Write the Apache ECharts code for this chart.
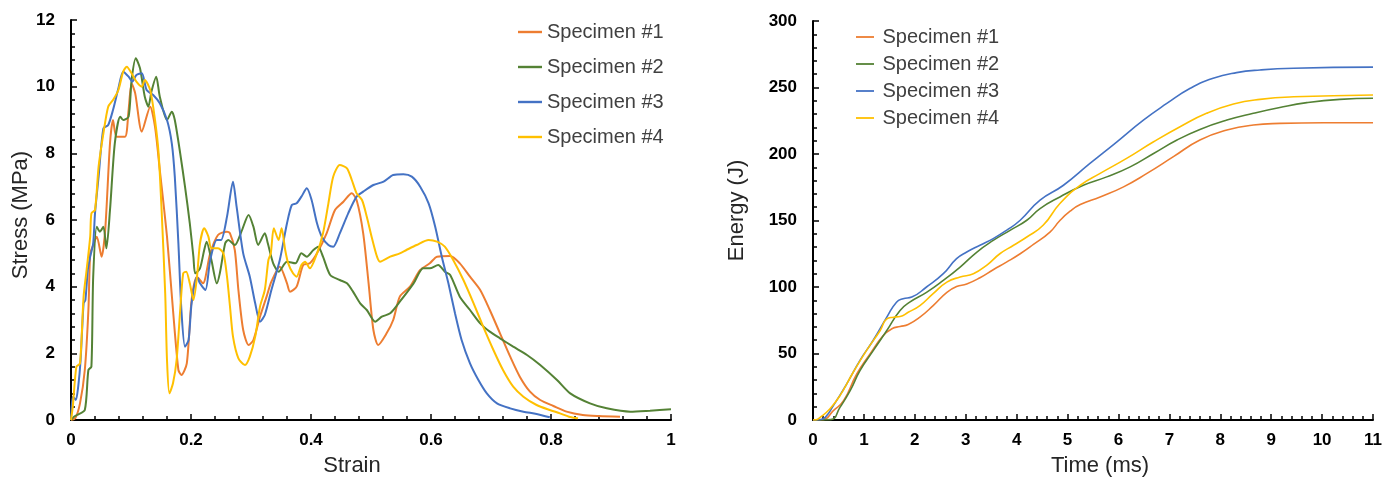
<!DOCTYPE html>
<html><head><meta charset="utf-8">
<script src="https://cdn.jsdelivr.net/npm/echarts@6/dist/echarts.min.js"></script>
<style>html,body{margin:0;padding:0;background:#fff}#c{width:1393px;height:482px}</style>
</head><body><div id="c"></div>
<script>
const seriesNames = ['Specimen #1', 'Specimen #2', 'Specimen #3', 'Specimen #4'];
const colors = ['#ED7D31', '#548235', '#4472C4', '#FFC000'];

// Stress–strain curves: [strain, stress (MPa)]
const stress1 = [[0,0],[0.007,0.05],[0.015,0.5],[0.023,1.5],[0.029,3.3],[0.032,5.0],[0.036,5.2],[0.043,5.5],[0.051,4.9],[0.057,5.7],[0.065,8.3],[0.07,9.0],[0.076,8.5],[0.09,8.5],[0.096,9.3],[0.101,10.1],[0.107,9.8],[0.118,8.65],[0.132,9.4],[0.14,8.8],[0.148,7.5],[0.16,5.5],[0.17,3.3],[0.179,1.5],[0.184,1.35],[0.193,1.7],[0.201,3.6],[0.21,4.3],[0.22,4.1],[0.232,5.0],[0.245,5.55],[0.26,5.65],[0.265,5.6],[0.273,5.1],[0.279,3.9],[0.287,2.7],[0.296,2.25],[0.304,2.4],[0.315,3.1],[0.326,3.7],[0.334,4.15],[0.348,4.6],[0.36,4.1],[0.365,3.85],[0.376,4.0],[0.387,4.65],[0.398,4.7],[0.41,5.0],[0.426,5.6],[0.44,6.3],[0.454,6.55],[0.468,6.8],[0.476,6.6],[0.487,5.6],[0.496,4.1],[0.504,2.7],[0.512,2.25],[0.526,2.6],[0.537,3.0],[0.548,3.7],[0.565,4.0],[0.582,4.5],[0.598,4.7],[0.61,4.9],[0.632,4.92],[0.648,4.7],[0.665,4.3],[0.682,3.9],[0.698,3.3],[0.715,2.6],[0.732,1.9],[0.748,1.3],[0.765,0.85],[0.782,0.6],[0.804,0.42],[0.826,0.25],[0.853,0.15],[0.88,0.12],[0.915,0.1]];
const stress2 = [[0,0],[0.005,0.1],[0.01,0.15],[0.023,0.3],[0.029,1.5],[0.034,1.6],[0.037,4.3],[0.043,5.8],[0.048,5.65],[0.054,5.8],[0.059,5.15],[0.065,6.3],[0.073,8.3],[0.082,9.1],[0.087,9.0],[0.096,9.1],[0.101,10.2],[0.108,10.85],[0.115,10.55],[0.123,9.7],[0.129,9.4],[0.134,9.85],[0.142,10.3],[0.148,9.7],[0.16,9.0],[0.168,9.25],[0.173,9.0],[0.182,8.0],[0.19,7.0],[0.198,5.9],[0.204,4.9],[0.207,4.4],[0.215,4.55],[0.222,5.1],[0.226,5.35],[0.234,4.8],[0.243,4.1],[0.248,4.4],[0.257,5.3],[0.262,5.4],[0.273,5.25],[0.284,5.65],[0.296,6.15],[0.304,5.8],[0.312,5.25],[0.323,5.6],[0.328,5.3],[0.337,4.7],[0.346,4.45],[0.36,4.75],[0.374,4.7],[0.384,5.0],[0.393,4.9],[0.404,5.1],[0.412,5.2],[0.42,4.9],[0.432,4.35],[0.448,4.2],[0.46,4.1],[0.47,3.85],[0.482,3.5],[0.493,3.3],[0.507,2.95],[0.518,3.1],[0.532,3.2],[0.548,3.55],[0.571,4.1],[0.587,4.55],[0.598,4.55],[0.612,4.65],[0.623,4.45],[0.632,4.35],[0.648,3.7],[0.665,3.3],[0.682,2.9],[0.698,2.65],[0.715,2.45],[0.737,2.2],[0.76,1.95],[0.782,1.65],[0.81,1.2],[0.832,0.8],[0.865,0.5],[0.893,0.35],[0.932,0.25],[0.965,0.28],[1.0,0.32]];
const stress3 = [[0,0],[0.003,0.7],[0.008,0.6],[0.012,1.0],[0.016,1.8],[0.021,3.5],[0.024,3.6],[0.028,4.5],[0.032,4.9],[0.037,5.3],[0.04,6.2],[0.046,7.3],[0.054,8.75],[0.062,8.85],[0.07,9.3],[0.079,9.95],[0.087,10.45],[0.096,10.3],[0.102,10.15],[0.109,10.35],[0.118,10.4],[0.126,9.9],[0.137,9.75],[0.148,9.5],[0.16,9.0],[0.168,8.3],[0.173,7.3],[0.179,5.3],[0.184,3.3],[0.19,2.2],[0.196,2.4],[0.201,3.5],[0.21,4.3],[0.215,4.1],[0.224,3.9],[0.232,4.8],[0.243,5.4],[0.25,5.4],[0.26,6.1],[0.27,7.15],[0.276,6.4],[0.287,5.0],[0.298,4.3],[0.307,3.5],[0.315,2.95],[0.323,3.15],[0.334,3.9],[0.348,4.8],[0.36,5.9],[0.368,6.45],[0.376,6.5],[0.384,6.7],[0.393,6.95],[0.401,6.6],[0.41,5.9],[0.418,5.5],[0.429,5.25],[0.437,5.2],[0.448,5.6],[0.462,6.2],[0.476,6.7],[0.487,6.85],[0.504,7.05],[0.521,7.15],[0.537,7.35],[0.554,7.37],[0.568,7.3],[0.582,7.0],[0.596,6.5],[0.607,5.8],[0.618,4.9],[0.629,4.1],[0.64,3.2],[0.651,2.4],[0.665,1.7],[0.679,1.2],[0.693,0.8],[0.71,0.5],[0.732,0.35],[0.754,0.25],[0.776,0.18],[0.798,0.08]];
const stress4 = [[0,0],[0.003,0.4],[0.009,1.6],[0.015,1.7],[0.021,3.7],[0.026,4.5],[0.032,5.5],[0.034,6.2],[0.04,6.3],[0.046,7.6],[0.054,8.6],[0.062,9.4],[0.07,9.6],[0.079,9.9],[0.087,10.45],[0.093,10.6],[0.101,10.4],[0.109,10.15],[0.118,10.0],[0.123,10.2],[0.132,9.9],[0.14,9.0],[0.146,8.0],[0.151,6.3],[0.157,3.8],[0.16,1.8],[0.164,0.8],[0.17,1.1],[0.176,1.8],[0.182,3.3],[0.187,4.4],[0.192,4.45],[0.198,4.1],[0.204,3.6],[0.21,4.3],[0.215,5.3],[0.222,5.75],[0.229,5.5],[0.234,5.15],[0.245,5.15],[0.254,5.0],[0.26,4.3],[0.265,3.4],[0.27,2.5],[0.279,1.85],[0.29,1.65],[0.298,1.9],[0.307,2.5],[0.315,3.4],[0.323,3.9],[0.329,4.8],[0.333,5.0],[0.338,5.75],[0.346,5.4],[0.351,5.75],[0.357,5.1],[0.362,4.7],[0.37,4.4],[0.376,4.3],[0.384,4.65],[0.39,4.75],[0.398,4.55],[0.41,5.0],[0.42,5.6],[0.429,6.5],[0.437,7.3],[0.448,7.65],[0.46,7.55],[0.468,7.2],[0.476,6.8],[0.485,6.6],[0.493,6.1],[0.501,5.5],[0.51,4.9],[0.515,4.75],[0.532,4.9],[0.548,5.0],[0.559,5.1],[0.576,5.25],[0.596,5.4],[0.61,5.35],[0.623,5.2],[0.637,4.8],[0.654,4.2],[0.671,3.5],[0.687,2.8],[0.704,2.1],[0.72,1.5],[0.737,1.0],[0.754,0.7],[0.776,0.45],[0.798,0.3],[0.815,0.2],[0.83,0.1],[0.845,0.05]];

// Energy–time curves: [time (ms), energy (J)]
const energy1 = [[0,0],[0.2,0.3],[0.4,7],[0.6,14.5],[0.86,34.6],[1.12,49.7],[1.38,63.5],[1.55,68.6],[1.71,70.3],[1.87,71.8],[2.1,77.3],[2.36,86],[2.63,96],[2.82,100.3],[3.02,102.3],[3.28,107],[3.54,113],[3.8,118.7],[4.07,125],[4.33,132],[4.66,141.5],[4.85,150],[5.05,157],[5.25,162],[5.64,167.7],[6.1,175.3],[6.56,185.4],[7.08,198],[7.6,210.5],[8.13,218],[8.65,221.8],[9.17,223],[10.03,223.5],[11,223.5]];
const energy2 = [[0,0],[0.35,0.3],[0.53,9.5],[0.73,22],[0.92,37],[1.18,52],[1.45,67.3],[1.71,82.4],[1.9,88.6],[2.23,96],[2.56,105],[2.89,115],[3.22,126.3],[3.54,135],[3.87,142.6],[4.2,150.2],[4.46,159],[4.85,167.7],[5.31,176.5],[5.77,182.8],[6.23,190.3],[6.69,200.4],[7.15,210.5],[7.6,218.5],[8.13,225.5],[8.65,230.6],[9.17,235],[9.7,238.6],[10.35,241.1],[11,241.9]];
const energy3 = [[0,0],[0.12,0.2],[0.24,2],[0.4,10.8],[0.66,27],[0.92,44.7],[1.18,59.8],[1.45,77.3],[1.64,88.6],[1.77,91.2],[1.94,92.4],[2.23,100],[2.56,110],[2.82,121.3],[3.02,126.3],[3.28,131.4],[3.54,136.4],[3.8,142.6],[4.07,150.2],[4.46,165.3],[4.92,176.5],[5.44,192.9],[5.97,209.2],[6.49,225.5],[6.95,238],[7.41,249.4],[7.86,257],[8.32,261.2],[8.78,263.2],[9.44,264.5],[11,265.3]];
const energy4 = [[0,0],[0.05,0.1],[0.14,2],[0.33,8.3],[0.53,18.3],[0.79,35.9],[1.05,52.2],[1.32,67.3],[1.45,76],[1.58,77.3],[1.71,77.8],[1.87,81],[2.1,86],[2.36,95],[2.63,103.7],[2.89,107.5],[3.15,110],[3.41,116.3],[3.67,125],[3.94,131.4],[4.2,137.6],[4.52,146.4],[4.85,162.8],[5.25,176.5],[5.64,185.4],[6.16,196.7],[6.69,209.2],[7.21,220.5],[7.73,230.6],[8.26,237.6],[8.78,241.1],[9.44,243],[11,244.4]];

const stressSets = [stress1, stress2, stress3, stress4];
const energySets = [energy1, energy2, energy3, energy4];

const FONT = '"Liberation Sans", Arial, sans-serif';

function axisCommon(extra) {
  return Object.assign({
    type: 'value',
    axisLine: { show: true, onZero: false, lineStyle: { color: '#000', width: 2 } },
    axisTick: { show: true, inside: true, length: 6, lineStyle: { color: '#000', width: 1.5 } },
    minorTick: { show: true, splitNumber: 5, length: 4, lineStyle: { color: '#000', width: 1.5 } },
    splitLine: { show: false },
    minorSplitLine: { show: false },
    nameLocation: 'middle'
  }, extra);
}

const chart = echarts.init(document.getElementById('c'), null, { renderer: 'canvas' });

const series = [];
stressSets.forEach((d, i) => series.push({
  name: seriesNames[i], type: 'line', xAxisIndex: 0, yAxisIndex: 0, data: d,
  symbol: 'none', showSymbol: false, smooth: 0.25, lineStyle: { color: colors[i], width: 2 }, itemStyle: { color: colors[i] }
}));
energySets.forEach((d, i) => series.push({
  name: seriesNames[i], type: 'line', xAxisIndex: 1, yAxisIndex: 1, data: d,
  symbol: 'none', showSymbol: false, smooth: 0.5, lineStyle: { color: colors[i], width: 1.6 }, itemStyle: { color: colors[i] }
}));

const labelStyle = (margin) => ({ fontFamily: FONT, fontSize: 17, fontWeight: 'bold', color: '#000', margin: margin });
const nameStyle = (padding) => ({ fontFamily: FONT, fontSize: 22, color: '#262626', padding: padding });
const lineIcon = 'path://M0,0 L40,0 L40,4 L0,4 Z';

chart.setOption({
  animation: false,
  backgroundColor: '#fff',
  textStyle: { fontFamily: FONT },
  grid: [
    { left: 71, right: 722, top: 20, bottom: 62, containLabel: false, outerBoundsMode: 'none' },
    { left: 813, right: 20, top: 21, bottom: 62, containLabel: false, outerBoundsMode: 'none' }
  ],
  xAxis: [
    axisCommon({ gridIndex: 0, min: 0, max: 1, interval: 0.2, name: 'Strain', nameGap: 35,
      axisLabel: labelStyle(12), nameTextStyle: nameStyle([0, 38, 0, 0]) }),
    axisCommon({ gridIndex: 1, min: 0, max: 11, interval: 1, name: 'Time (ms)', nameGap: 35,
      axisLabel: labelStyle(12), nameTextStyle: nameStyle([0, 0, 0, 14]) })
  ],
  yAxis: [
    axisCommon({ gridIndex: 0, min: 0, max: 12, interval: 2, name: 'Stress (MPa)', nameGap: 39,
      axisLabel: labelStyle(16), nameTextStyle: nameStyle([0, 0, 0, 10]) }),
    axisCommon({ gridIndex: 1, min: 0, max: 300, interval: 50, name: 'Energy (J)', nameGap: 65,
      axisLabel: labelStyle(16), nameTextStyle: nameStyle([0, 0, 0, 20]) })
  ],
  legend: [
    { data: seriesNames, orient: 'vertical', left: 518, top: 22, padding: 0, icon: lineIcon,
      itemWidth: 24, itemHeight: 2.5, itemGap: 15,
      textStyle: { fontFamily: FONT, fontSize: 20, color: '#404040', lineHeight: 20 }, selectedMode: false },
    { data: seriesNames, orient: 'vertical', left: 856, top: 27, padding: 0, icon: lineIcon,
      itemWidth: 25, itemHeight: 1.8, itemGap: 7,
      textStyle: { fontFamily: FONT, fontSize: 20, color: '#404040', lineHeight: 20 }, selectedMode: false }
  ],
  series: series
});
</script>
</body></html>
